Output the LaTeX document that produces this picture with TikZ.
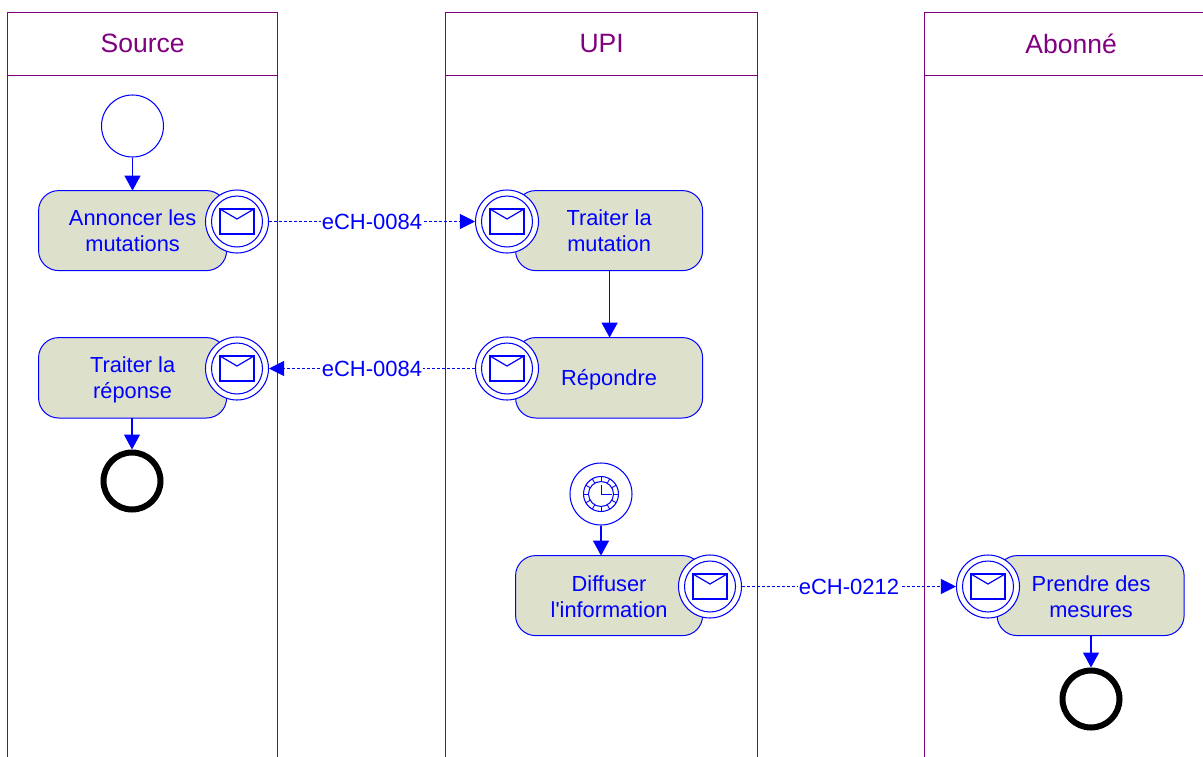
\documentclass[tikz,border=0pt]{standalone}
\usepackage{fontspec}
\setmainfont{Liberation Sans}[Ligatures=TeXOff]
\usetikzlibrary{arrows.meta}
\definecolor{lanepurple}{RGB}{128,0,128}
\definecolor{evblue}{RGB}{0,0,255}
\definecolor{taskfill}{RGB}{221,225,204}
\newcommand{\shifted}[2]{\raisebox{#1}[\height][\depth]{#2}}
\tikzset{
  lanehead/.style={draw=lanepurple,line width=1pt,outer sep=0pt,text=lanepurple,minimum height=62.4pt,inner sep=0pt,anchor=north west,font=\fontsize{26.5}{30}\selectfont},
  lanebody/.style={draw=lanepurple,line width=1pt},
  task/.style={draw=evblue,fill=taskfill,line width=1pt,outer sep=0pt,rounded corners=20pt,minimum width=188pt,minimum height=80pt,inner sep=0pt,align=center,text=evblue,font=\fontsize{21.8}{26}\selectfont},
  narrowtask/.style={task,minimum width=187pt},
  evcircle/.style={circle,draw=evblue,fill=white,line width=1.05pt,inner sep=0pt},
  startev/.style={evcircle,minimum size=62pt},
  endev/.style={circle,draw=black,fill=white,line width=6pt,inner sep=0pt,minimum size=57pt},
  msgev/.style={evcircle,minimum size=63pt},
  msgin/.style={evcircle,minimum size=51pt},
  flow/.style={draw=evblue,line width=1.2pt,-{Triangle[length=15pt,width=16pt]}},
  msgflow/.style={draw=evblue,line width=1pt,densely dashed,-{Triangle[length=15pt,width=15pt]}},
  flowlabel/.style={fill=white,text=evblue,inner sep=0.5pt,font=\fontsize{22}{24}\selectfont},
  envelope/.pic={
    \draw[draw=evblue,line width=1.2pt] (-17,-12.5) rectangle (17,12.5);
    \draw[draw=evblue,line width=1.2pt] (-17,-12.5) -- (0,-2.5) -- (17,-12.5);
  }
}
\newcommand{\msgevent}[2]{%
  \node[msgev] (#1) at (#2) {};
  \node[msgin] (#1in) at (#2) {};
  \pic at (#2) {envelope};
}
\begin{document}
\begin{tikzpicture}[x=1pt,y=-1pt]
\useasboundingbox (0,0) rectangle (1203,756);
\clip (0,0) rectangle (1203,756);
% lanes
\fill[white] (0,0) rectangle (1203,756);
\node[lanehead,minimum width=270pt] (l1) at (7.6,12.6) {Source};
\node[lanehead,minimum width=312pt] (l2) at (445.6,12.6) {UPI};
\node[lanehead,minimum width=293pt] (l3) at (924.6,12.6) {Abonné};
\draw[lanebody] (l1.south west) -- ++(0,700);
\draw[lanebody] (l1.south east) -- ++(0,700);
\draw[lanebody] (l2.south west) -- ++(0,700);
\draw[lanebody] (l2.south east) -- ++(0,700);
\draw[lanebody] (l3.south west) -- ++(0,700);
% tasks
\node[task] (a) at (132.6,230.6) {Annoncer les\\mutations};
\node[task,minimum height=80.4pt] (b) at (132.6,377.8) {\shifted{-2pt}{Traiter la}\\\shifted{-2pt}{réponse}};
\node[narrowtask] (c) at (609.1,230.6) {Traiter la\\mutation};
\node[narrowtask,minimum height=80.4pt] (d) at (609.1,377.8) {\shifted{-2pt}{Répondre}};
\node[narrowtask] (e) at (609.1,595.6) {\shifted{-1pt}{Diffuser}\\\shifted{-1pt}{l'information}};
\node[narrowtask] (f) at (1090.6,595.6) {\shifted{-1pt}{\hspace{1pt}Prendre des}\\\shifted{-1pt}{\hspace{1pt}mesures}};
% events
\node[startev] (s1) at (132.5,126) {};
\node[endev] (e1) at (132,481) {};
\node[endev] (e2) at (1091,699) {};
\node[startev] (t1) at (601,494) {};
\begin{scope}[shift={(601,494)}]
  \node[evcircle,minimum size=35pt] (t1out) at (0,0) {};
  \node[evcircle,minimum size=25pt] (t1in) at (0,0) {};
  \foreach \ang in {0,30,...,330}
    \draw[draw=evblue,line width=.9pt] (\ang:12.5) -- (\ang:17.5);
  \draw[draw=evblue,line width=1pt] (0,-9) -- (0,0) -- (11,0);
\end{scope}
\msgevent{m1}{237,221.5}
\msgevent{m2}{507,221.5}
\msgevent{m3}{237,368.5}
\msgevent{m4}{507,368.5}
\msgevent{m5}{710,586.5}
\msgevent{m6}{988,586.5}
% sequence flows
\draw[flow] (s1) -- (s1 |- a.north);
\draw[flow] ([xshift=.5pt]c.south) -- ([xshift=.5pt]d.north);
\draw[flow] (b.south -| e1) -- (e1);
\draw[flow] (t1) -- (t1 |- e.north);
\draw[flow] (e2 |- f.south) -- (e2);
% message flows
\draw[msgflow] (m1) -- node[flowlabel] (lab1) {eCH-0084} (m2);
\draw[msgflow] (m4) -- node[flowlabel] (lab2) {eCH-0084} (m3);
\draw[msgflow] (m5) -- node[flowlabel] (lab3) {eCH-0212} (m6);
\end{tikzpicture}
\end{document}
